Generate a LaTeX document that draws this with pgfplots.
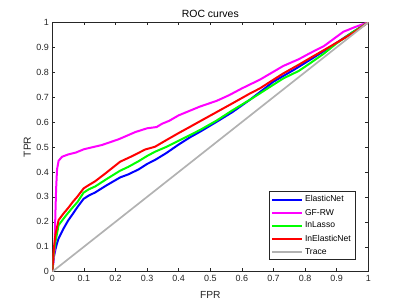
\documentclass[border=0pt]{standalone}
\usepackage{pgfplots}
\pgfplotsset{compat=1.18}
\usepackage{fontspec}
\setmainfont{Liberation Sans}
\definecolor{axgray}{rgb}{0.15,0.15,0.15}
\definecolor{trgray}{rgb}{0.7,0.7,0.7}
\definecolor{cblue}{rgb}{0,0,1}
\definecolor{cmag}{rgb}{1,0,1}
\definecolor{cgreen}{rgb}{0,1,0}
\definecolor{cred}{rgb}{1,0,0}
\begin{document}
\begin{tikzpicture}
\begin{axis}[
  at={(0,0)}, anchor=south west,
  scale only axis, width=316bp, height=249.4bp,
  xmin=0, xmax=1, ymin=0, ymax=1,
  xtick={0,0.1,...,1}, ytick={0,0.1,...,1},
  xticklabels={0,0.1,0.2,0.3,0.4,0.5,0.6,0.7,0.8,0.9,1},
  yticklabels={0,0.1,0.2,0.3,0.4,0.5,0.6,0.7,0.8,0.9,1},
  tick align=inside, tick pos=both,
  major tick length=3.2bp,
  axis line style={axgray, line width=0.5bp},
  every tick/.style={axgray, line width=0.5bp},
  tick label style={font=\fontsize{9}{11}\selectfont, text=axgray},
  xlabel={FPR}, ylabel={TPR},
  label style={font=\fontsize{10.3}{12}\selectfont, text=axgray},
  xlabel style={yshift=-3bp},
  ylabel style={yshift=-1.5bp},
  title={ROC curves},
  title style={font=\fontsize{10.5}{12}\selectfont, text=black, yshift=-5bp},
  legend style={at={(0.958,0.047)}, anchor=south east, draw=axgray, line width=0.5bp,
    font=\fontsize{8.6}{10}\selectfont, inner sep=2bp, row sep=1.6bp},
  legend cell align=left,
  legend image code/.code={\draw[#1] (0bp,0bp) -- (30bp,0bp);},
]
\addplot[cblue, line width=2bp] coordinates {
(0,0)(0.005,0.06)(0.01,0.09)(0.015,0.114)(0.02,0.134)(0.036,0.174)(0.05,0.205)(0.065,0.232)(0.08,0.26)(0.099,0.292)(0.115,0.305)(0.136,0.318)(0.17,0.345)(0.2146,0.378)(0.24,0.39)(0.273,0.41)(0.3,0.432)(0.325,0.448)(0.36,0.475)(0.4,0.51)(0.436,0.539)(0.47,0.563)(0.52,0.601)(0.57,0.64)(0.626,0.69)(0.657,0.72)(0.7,0.762)(0.764,0.809)(0.815,0.849)(0.86,0.885)(0.9,0.918)(0.95,0.96)(1,1)};
\addlegendentry{ElasticNet}
\addplot[cmag, line width=2bp] coordinates {
(0,0)(0.0075,0.09)(0.0095,0.22)(0.012,0.33)(0.015,0.41)(0.02,0.445)(0.031,0.461)(0.05,0.47)(0.075,0.478)(0.1,0.491)(0.157,0.508)(0.21,0.531)(0.263,0.56)(0.3,0.575)(0.33,0.58)(0.347,0.593)(0.37,0.605)(0.4,0.627)(0.467,0.662)(0.52,0.685)(0.56,0.708)(0.6,0.735)(0.657,0.77)(0.731,0.825)(0.78,0.852)(0.815,0.876)(0.86,0.905)(0.921,0.962)(0.96,0.982)(1,1)};
\addlegendentry{GF-RW}
\addplot[cgreen, line width=2bp] coordinates {
(0,0)(0.005,0.08)(0.01,0.12)(0.02,0.187)(0.031,0.205)(0.045,0.228)(0.062,0.254)(0.08,0.28)(0.099,0.317)(0.115,0.33)(0.136,0.342)(0.17,0.37)(0.2146,0.405)(0.24,0.42)(0.273,0.443)(0.3,0.464)(0.325,0.481)(0.36,0.5)(0.4,0.525)(0.436,0.548)(0.47,0.57)(0.52,0.606)(0.57,0.647)(0.626,0.69)(0.657,0.715)(0.7,0.75)(0.731,0.775)(0.78,0.805)(0.815,0.835)(0.86,0.875)(0.9,0.916)(0.95,0.96)(1,1)};
\addlegendentry{InLasso}
\addplot[cred, line width=2bp] coordinates {
(0,0)(0.0043,0.087)(0.01,0.15)(0.02,0.207)(0.036,0.234)(0.05,0.255)(0.065,0.28)(0.08,0.302)(0.099,0.334)(0.115,0.347)(0.136,0.363)(0.168,0.394)(0.2146,0.441)(0.252,0.463)(0.294,0.49)(0.325,0.501)(0.36,0.527)(0.4,0.556)(0.436,0.581)(0.47,0.605)(0.52,0.64)(0.57,0.675)(0.626,0.715)(0.657,0.735)(0.7,0.77)(0.731,0.795)(0.78,0.83)(0.815,0.856)(0.878,0.902)(0.953,0.958)(1,1)};
\addlegendentry{InElasticNet}
\addplot[trgray, line width=1.7bp] coordinates {(0,0)(1,1)};
\addlegendentry{Trace}
\end{axis}
\pgfresetboundingbox
\useasboundingbox (-52.3bp,-33.3bp) rectangle (354.7bp,271.7bp);
\end{tikzpicture}
\end{document}
